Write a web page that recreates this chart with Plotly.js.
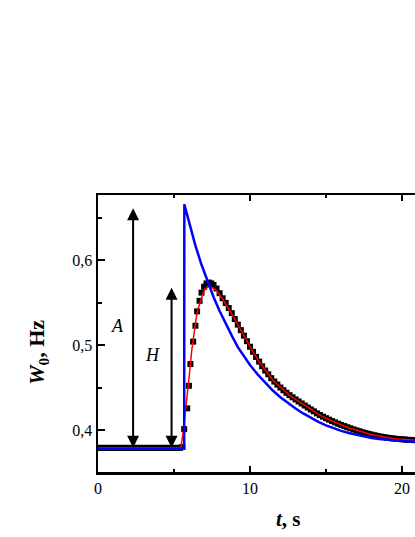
<!DOCTYPE html>
<html>
<head>
<meta charset="utf-8">
<script src="https://cdn.plot.ly/plotly-3.0.1.min.js"></script>
<style>
html,body{margin:0;padding:0;overflow:hidden;background:#fff;width:415px;height:537px;}
#chart{width:520px;height:537px;}
</style>
</head>
<body>
<div id="chart"></div>
<script>
// Measured data (black squares)
const measT = [0.0,0.2,0.4,0.6,0.8,1.0,1.2,1.4,1.6,1.8,2.0,2.2,2.4,2.6,2.8,3.0,3.2,3.4,3.6,3.8,4.0,4.2,4.4,4.6,4.8,5.0,5.2,5.4,5.55,
  5.67,5.87,5.98,6.08,6.26,6.41,6.52,6.68,6.81,6.98,7.14,7.3,7.45,7.6,7.8,8.0,8.2,8.4,8.6,8.8,9.0,9.2,9.4,9.6,9.8,10.0,
  10.2,10.4,10.6,10.8,11.0,11.2,11.4,11.6,11.8,12.0,12.2,12.4,12.6,12.8,13.0,13.2,13.4,13.6,13.8,14.0,14.2,14.4,14.6,14.8,15.0,
  15.2,15.4,15.6,15.8,16.0,16.2,16.4,16.6,16.8,17.0,17.2,17.4,17.6,17.8,18.0,18.2,18.4,18.6,18.8,19.0,19.2,19.4,19.6,19.8,20.0,
  20.2,20.4,20.6,20.8,21.0];
const measW = [0.379,0.379,0.379,0.379,0.379,0.379,0.379,0.379,0.379,0.379,0.379,0.379,0.379,0.379,0.379,0.379,0.379,0.379,0.379,0.379,0.379,0.379,0.379,0.379,0.379,0.379,0.379,0.379,0.380,
  0.401,0.4255,0.452,0.4776,0.504,0.5227,0.5396,0.552,0.5616,0.5686,0.5725,0.5735,0.5725,0.5706,0.5665,0.561,0.555,0.5495,0.5435,0.5375,0.5305,0.524,0.5175,0.511,0.5045,0.498,
  0.492,0.486,0.4805,0.475,0.470,0.4655,0.461,0.457,0.4535,0.450,0.4468,0.4438,0.441,0.4385,0.436,0.4336,0.4312,0.4288,0.4265,0.4242,0.422,0.4196,0.4176,0.4157,0.4139,
  0.4122,0.4105,0.4089,0.4074,0.406,0.4046,0.4033,0.402,0.4008,0.3996,0.3985,0.3974,0.3964,0.3955,0.3946,0.3938,0.393,0.3923,0.3917,0.3911,0.3906,0.3901,0.3897,0.3894,0.3891,
  0.3888,0.3885,0.3883,0.3881,0.3879];

// Fit (red line)
const fitT = [0.0,5.45,5.6,5.72,5.85,5.95,6.05,6.17,6.27,6.37,6.48,6.59,6.7,6.81,6.92,7.03,7.15,7.25,7.36,7.47,7.6,7.8,8.0,8.2,8.4,8.6,
  8.8,9.0,9.4,9.8,10.2,10.6,11.0,11.4,11.8,12.2,12.6,13.0,13.4,13.8,14.2,14.6,15.0,15.4,15.8,16.2,16.6,17.0,17.4,17.8,18.2,18.6,19.0,19.4,19.8,20.2,20.6,21.0];
const fitW = [0.379,0.379,0.397,0.4157,0.437,0.455,0.472,0.494,0.509,0.5235,0.534,0.543,0.550,0.557,0.5615,0.5655,0.5678,0.5686,0.5686,0.568,0.5665,0.564,0.5595,0.554,0.5485,0.543,
  0.5375,0.5305,0.5175,0.5045,0.492,0.4805,0.470,0.461,0.4535,0.4468,0.441,0.436,0.4312,0.4265,0.422,0.4176,0.4139,0.4105,0.4074,0.4046,0.402,0.3996,0.3974,0.3955,0.3938,0.3923,0.3911,0.3901,0.3894,0.3888,0.3883,0.3879];

// Model (blue line)
const modT = [0.0,5.67,5.68,6.0,6.4,6.8,7.2,7.6,8.0,8.4,8.8,9.2,9.6,10.0,10.5,11.0,11.5,12.0,12.5,13.0,13.5,14.0,14.5,15.0,15.5,16.0,16.5,17.0,17.5,18.0,18.5,19.0,19.5,20.0,20.5,21.0];
const modW = [0.378,0.378,0.6655,0.643,0.6175,0.595,0.5745,0.5565,0.540,0.5245,0.511,0.4975,0.4865,0.4765,0.4655,0.4555,0.4465,0.4385,0.4315,0.4252,0.4195,0.4142,0.4095,0.4055,0.402,0.399,0.3964,0.3942,0.3923,0.3907,0.3894,0.3884,0.3876,0.387,0.3865,0.3861];

// Arrows A and H: [t, wTop, wBottom]
const arrowA = [2.31, 0.661, 0.3775];
const arrowH = [4.84, 0.5674, 0.3775];
const labelA = [1.3, 0.5224, 'A'];
const labelH = [3.57, 0.4882, 'H'];

const xTickVals = [0, 10, 20];
const xTickText = ['0', '10', '20'];
const xMinorVals = [5, 15, 25];
const yTickVals = [0.4, 0.5, 0.6];
const yTickText = ['0,4', '0,5', '0,6'];
const yMinorVals = [0.35, 0.45, 0.55, 0.65];

const serif = 'Liberation Serif, Times New Roman, serif';

const traces = [
  {x: measT, y: measW, type: 'scatter', mode: 'markers',
   marker: {symbol: 'square', size: 6, color: '#000'}},
  {x: fitT, y: fitW, type: 'scatter', mode: 'lines',
   line: {color: '#ff0000', width: 1.5}},
  {x: modT, y: modW, type: 'scatter', mode: 'lines',
   line: {color: '#0000ff', width: 2.5}}
];

function arrowAnn(a) {
  return {x: a[0], y: a[1], ax: a[0], ay: a[2], xref: 'x', yref: 'y', axref: 'x', ayref: 'y',
    showarrow: true, arrowhead: 2, arrowside: 'end+start', arrowsize: 1.2, arrowwidth: 2,
    arrowcolor: '#000', text: '', standoff: 0, startstandoff: 0};
}

const layout = {
  width: 520, height: 537,
  margin: {l: 98, r: 42, t: 195, b: 65},
  paper_bgcolor: '#fff', plot_bgcolor: '#fff',
  showlegend: false,
  font: {family: serif, size: 16, color: '#000'},
  xaxis: {
    range: [0, 25], tickmode: 'array', tickvals: xTickVals, ticktext: xTickText,
    ticks: 'inside', ticklen: 6, tickwidth: 2, tickcolor: '#000',
    minor: {tickmode: 'array', tickvals: xMinorVals, ticks: 'inside', ticklen: 3, tickwidth: 2, tickcolor: '#000'},
    showline: true, linewidth: 2.5, linecolor: '#000', mirror: 'ticks',
    showgrid: false, zeroline: false,
    tickfont: {family: serif, size: 16, color: '#000'}
  },
  yaxis: {
    range: [0.3506, 0.6765], tickmode: 'array', tickvals: yTickVals, ticktext: yTickText,
    ticks: 'inside', ticklen: 7, tickwidth: 2, tickcolor: '#000',
    minor: {tickmode: 'array', tickvals: yMinorVals, ticks: 'inside', ticklen: 4, tickwidth: 2, tickcolor: '#000'},
    showline: true, linewidth: 2.5, linecolor: '#000', mirror: 'ticks',
    showgrid: false, zeroline: false,
    tickfont: {family: serif, size: 16, color: '#000'}
  },
  annotations: [
    arrowAnn(arrowA), arrowAnn(arrowH),
    {x: labelA[0], y: labelA[1], xref: 'x', yref: 'y', xanchor: 'center', yanchor: 'middle',
     text: '<i>' + labelA[2] + '</i>', showarrow: false,
     font: {family: serif, size: 18, color: '#000'}},
    {x: labelH[0], y: labelH[1], xref: 'x', yref: 'y', xanchor: 'center', yanchor: 'middle',
     text: '<i>' + labelH[2] + '</i>', showarrow: false,
     font: {family: serif, size: 18, color: '#000'}},
    {x: -0.158, y: 0.433, xref: 'paper', yref: 'paper', xanchor: 'center', yanchor: 'middle',
     textangle: -90, showarrow: false,
     text: '<b><i>W</i><sub>0</sub>, Hz</b>', font: {family: serif, size: 22, color: '#000'}},
    {x: 0.5, y: -0.17, xref: 'paper', yref: 'paper', xanchor: 'center', yanchor: 'middle', showarrow: false,
     text: '<b><i>t</i>, s</b>', font: {family: serif, size: 21, color: '#000'}}
  ]
};

Plotly.newPlot('chart', traces, layout, {displayModeBar: false, staticPlot: true});
</script>
</body>
</html>
